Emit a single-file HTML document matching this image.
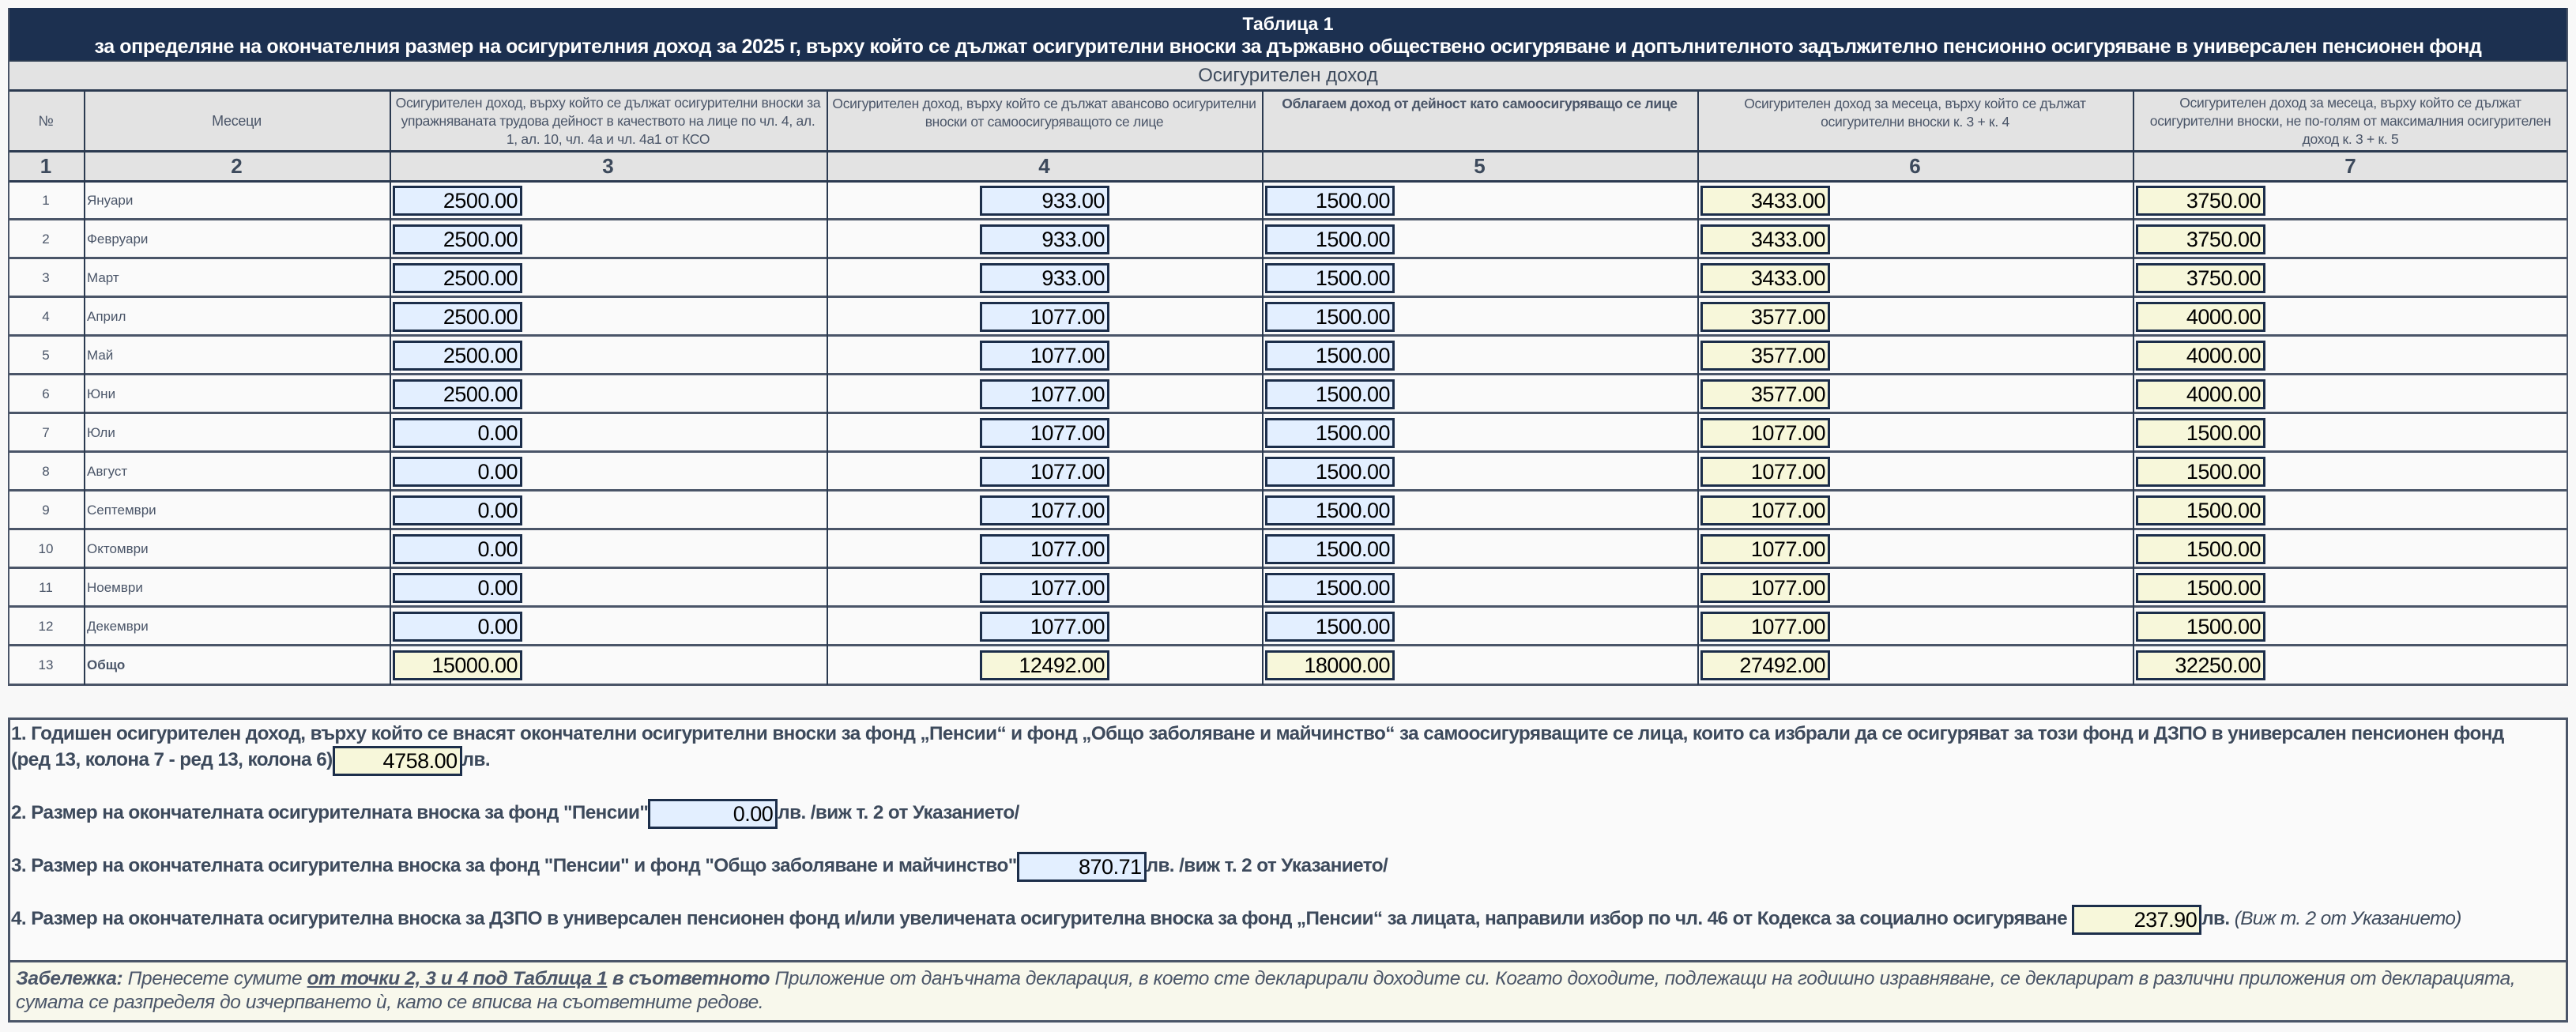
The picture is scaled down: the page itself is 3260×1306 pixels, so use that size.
<!DOCTYPE html>
<html><head><meta charset="utf-8">
<style>
*{box-sizing:border-box;margin:0;padding:0}
body{width:3260px;height:1306px;background:#f8f8f8;position:relative;overflow:hidden;font-family:"Liberation Sans","DejaVu Sans",sans-serif;color:#3d4a5c}
.abs{position:absolute}
.hl{position:absolute;background:#2b3a50}
.vl{position:absolute;background:#2b3a50;width:2px}
.hdr{position:absolute;display:flex;align-items:center;justify-content:center;text-align:center;font-size:17.5px;line-height:23px;color:#4a5568;padding:0 6px;letter-spacing:-0.3px}
.num{position:absolute;display:flex;align-items:center;justify-content:center;font-size:26px;font-weight:bold;color:#3d4a5c}
.box{position:absolute;height:38px;width:164px;border:3px solid #1c2e4a;font-size:27px;text-align:right;padding-right:3px;line-height:32px;color:#000;letter-spacing:-0.5px}
.ibox{display:inline-block;vertical-align:middle;height:38px;width:164px;border:3px solid #1c2e4a;font-size:27px;text-align:right;padding-right:3px;line-height:32px;color:#000;font-weight:normal;letter-spacing:-0.5px}
.blue{background:#e3efff}.yel{background:#f7f7da}
.cell{position:absolute;display:flex;align-items:center;font-size:17px;color:#4a5568}
.bt{position:absolute;left:14px;font-size:24.3px;font-weight:bold;white-space:nowrap;color:#3d4a5c;letter-spacing:-0.6px;line-height:38px}
</style></head><body>
<div class="abs" style="left:10px;top:10px;width:3240px;height:67px;background:#1c3050;color:#fff;text-align:center;font-weight:bold">
<div style="font-size:23px;line-height:28px;padding-top:6px">Таблица 1</div>
<div style="font-size:25px;line-height:30px;letter-spacing:-0.4px">за определяне на окончателния размер на осигурителния доход за 2025 г, върху който се дължат осигурителни вноски за държавно обществено осигуряване и допълнителното задължително пенсионно осигуряване в универсален пенсионен фонд</div>
</div>
<div class="abs" style="left:10px;top:77px;width:3240px;height:114px;background:#e3e3e3"></div>
<div class="abs" style="left:10px;top:77px;width:3240px;height:38px;display:flex;align-items:center;justify-content:center;font-size:24px;color:#3d4a5c">Осигурителен доход</div>
<div class="abs" style="left:10px;top:191px;width:3240px;height:38px;background:#e3e3e3"></div>
<div class="abs" style="left:10px;top:229px;width:3240px;height:638px;background:#fafafa"></div>
<div id="grid"></div>

<div class="abs" style="left:10px;top:908px;width:3240px;height:386px;border:3px solid #4a5568;background:#fafafa"></div>
<div class="abs" style="left:13px;top:1215px;width:3234px;height:76px;background:#f8f8ec;border-top:3px solid #4a5568"></div>
<div class="bt" style="top:910px">1. Годишен осигурителен доход, върху който се внасят окончателни осигурителни вноски за фонд „Пенсии“ и фонд „Общо заболяване и майчинство“ за самоосигуряващите се лица, които са избрали да се осигуряват за този фонд и ДЗПО в универсален пенсионен фонд</div>
<div class="bt" style="top:943px">(ред 13, колона 7 - ред 13, колона 6)<span class="ibox yel">4758.00</span>лв.</div>
<div class="bt" style="top:1010px">2. Размер на окончателната осигурителната вноска за фонд "Пенсии"<span class="ibox blue">0.00</span>лв. /виж т. 2 от Указанието/</div>
<div class="bt" style="top:1077px">3. Размер на окончателната осигурителна вноска за фонд "Пенсии" и фонд "Общо заболяване и майчинство"<span class="ibox blue">870.71</span>лв. /виж т. 2 от Указанието/</div>
<div class="bt" style="top:1144px">4. Размер на окончателната осигурителна вноска за ДЗПО в универсален пенсионен фонд и/или увеличената осигурителна вноска за фонд „Пенсии“ за лицата, направили избор по чл. 46 от Кодекса за социално осигуряване <span class="ibox yel">237.90</span>лв. <i style="font-weight:normal">(Виж т. 2 от Указанието)</i></div>
<div class="abs" style="left:20px;top:1224px;width:3226px;font-size:24.5px;line-height:30px;font-style:italic;color:#4a5568;letter-spacing:-0.4px;white-space:nowrap"><b>Забележка:</b> Пренесете сумите <b><u>от точки 2, 3 и 4 под Таблица 1</u> в съответното</b> Приложение от данъчната декларация, в което сте декларирали доходите си. Когато доходите, подлежащи на годишно изравняване, се декларират в различни приложения от декларацията,<br>сумата се разпределя до изчерпването ѝ, като се вписва на съответните редове.</div>

<script>
const months=["Януари","Февруари","Март","Април","Май","Юни","Юли","Август","Септември","Октомври","Ноември","Декември","Общо"];
const col3=[2500,2500,2500,2500,2500,2500,0,0,0,0,0,0,15000];
const col4=[933,933,933,1077,1077,1077,1077,1077,1077,1077,1077,1077,12492];
const col5=[1500,1500,1500,1500,1500,1500,1500,1500,1500,1500,1500,1500,18000];
const col6=[3433,3433,3433,3577,3577,3577,1077,1077,1077,1077,1077,1077,27492];
const col7=[3750,3750,3750,4000,4000,4000,1500,1500,1500,1500,1500,1500,32250];
const headers=["№","Месеци","Осигурителен доход, върху който се дължат осигурителни вноски за упражняваната трудова дейност в качеството на лице по чл. 4, ал. 1, ал. 10, чл. 4а и чл. 4а1 от КСО","Осигурителен доход, върху който се дължат авансово осигурителни вноски от самоосигуряващото се лице","Облагаем доход от дейност като самоосигуряващо се лице","Осигурителен доход за месеца, върху който се дължат осигурителни вноски к. 3 + к. 4","Осигурителен доход за месеца, върху който се дължат осигурителни вноски, не по-голям от максималния осигурителен доход к. 3 + к. 5"];
const X=[10,106,493,1046,1597,2148,2699,3250];
const g=document.getElementById('grid');
function add(cls,style,txt,name,inter){const d=document.createElement('div');d.className=cls;d.style.cssText=style;if(txt!==undefined)d.textContent=txt;


g.appendChild(d);return d;}
for(let c=0;c<7;c++){
 const w=X[c+1]-X[c];
 const top=(c>=3&&c<=5)?'align-items:flex-start;padding-top:4px;':'';
 add('hdr',`left:${X[c]}px;top:116px;width:${w}px;height:75px;${c==4?'font-weight:bold;':''}${top}${c<2?'font-size:18px;':''}`,headers[c],'column-header-'+(c+1),false);
 add('num',`left:${X[c]}px;top:191px;width:${w}px;height:38px`,String(c+1),'column-number-'+(c+1),false);
}
const cols=[col3,col4,col5,col6,col7];
for(let r=0;r<13;r++){
 const top=229+r*49;
 add('cell',`left:${X[0]}px;top:${top}px;width:96px;height:49px;justify-content:center`,String(r+1),'row-number-'+(r+1),false);
 add('cell',`left:${X[1]+4}px;top:${top}px;width:380px;height:49px;${r==12?'font-weight:bold;':''}`,months[r],'month-'+(r+1),false);
 for(let c=0;c<5;c++){
  const cx=X[c+2];let left=cx+4;
  if(c==1)left=Math.round((X[3]+X[4])/2-82);
  const yellow=(r==12)||c>=3;
  add('box '+(yellow?'yel':'blue'),`left:${left}px;top:${top+6}px`,cols[c][r].toFixed(2),'income-field-r'+(r+1)+'-c'+(c+3),true);
 }
 if(r<12) add('hl',`left:10px;top:${top+47}px;width:3240px;height:3px;background:#4a5568`,undefined,'row-separator',false);
}
add('hl','left:10px;top:76px;width:3240px;height:2px','', 'title-border',false);
add('hl','left:10px;top:113px;width:3240px;height:3px','', 'header-border',false);
add('hl','left:10px;top:190px;width:3240px;height:3px','', 'number-row-top',false);
add('hl','left:10px;top:228px;width:3240px;height:3px','', 'number-row-bottom',false);
add('hl','left:10px;top:865px;width:3240px;height:3px;background:#4a5568','', 'table-bottom',false);
for(let c=0;c<8;c++){
 const top=c==0||c==7?10:114;
 add('vl',`left:${X[c]-(c==7?2:0)}px;top:${top}px;height:${867-top}px;${c==0||c==7?'background:#4a5568;':''}`,'', 'column-line',false);
}
</script>
</body></html>
